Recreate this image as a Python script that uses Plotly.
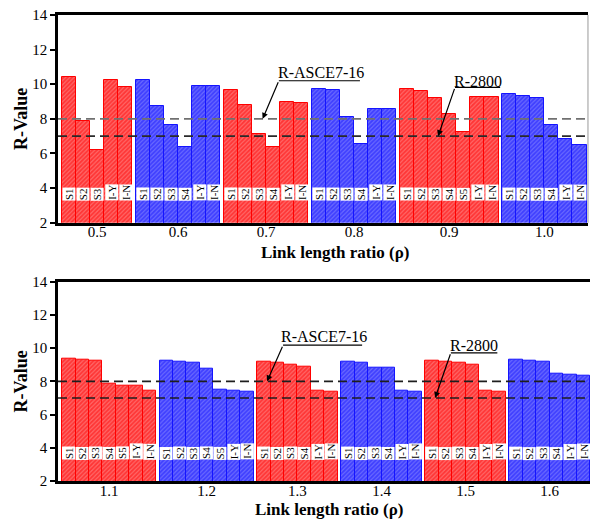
import plotly.graph_objects as go

# ---- data -------------------------------------------------------------
top_groups = ["0.5", "0.6", "0.7", "0.8", "0.9", "1.0"]
top_labels = [
    ["S1", "S2", "S3", "I-Y", "I-N"],
    ["S1", "S2", "S3", "S4", "I-Y", "I-N"],
    ["S1", "S2", "S3", "S4", "I-Y", "I-N"],
    ["S1", "S2", "S3", "S4", "I-Y", "I-N"],
    ["S1", "S2", "S3", "S4", "S5", "I-Y", "I-N"],
    ["S1", "S2", "S3", "S4", "I-Y", "I-N"],
]
top_values = [
    [10.40, 7.85, 6.18, 10.22, 9.82],
    [10.22, 8.72, 7.64, 6.37, 9.88, 9.88],
    [9.66, 8.78, 7.10, 6.37, 8.95, 8.89],
    [9.70, 9.65, 8.08, 6.54, 8.55, 8.55],
    [9.70, 9.63, 9.18, 8.26, 7.26, 9.24, 9.24],
    [9.43, 9.34, 9.22, 7.64, 6.83, 6.49],
]

bot_groups = ["1.1", "1.2", "1.3", "1.4", "1.5", "1.6"]
bot_labels = [
    ["S1", "S2", "S3", "S4", "S5", "I-Y", "I-N"],
    ["S1", "S2", "S3", "S4", "S5", "I-Y", "I-N"],
    ["S1", "S2", "S3", "S4", "I-Y", "I-N"],
    ["S1", "S2", "S3", "S4", "I-Y", "I-N"],
    ["S1", "S2", "S3", "S4", "I-Y", "I-N"],
    ["S1", "S2", "S3", "S4", "I-Y", "I-N"],
]
bot_values = [
    [9.38, 9.30, 9.22, 7.83, 7.75, 7.75, 7.45],
    [9.26, 9.20, 9.10, 8.77, 7.51, 7.41, 7.39],
    [9.20, 9.12, 9.02, 8.91, 7.43, 7.35],
    [9.20, 9.10, 8.85, 8.81, 7.43, 7.37],
    [9.22, 9.16, 9.10, 9.02, 7.45, 7.35],
    [9.32, 9.26, 9.16, 8.49, 8.43, 8.37],
]

x_title = "Link length ratio (ρ)"
y_title = "R-Value"
r_asce = 8.0   # R-ASCE7-16
r_2800 = 7.0   # R-2800
label_base = 3.25

# ---- styling ----------------------------------------------------------
SERIF = "Liberation Serif"
RED, RED_BG = "#ff0000", "#ff6a6a"
BLUE, BLUE_BG = "#1414ff", "#6a6aff"
GAP = 0.24

fig = go.Figure()
annotations = []
shapes = []


def add_panel(groups, labels, values, xa, ya):
    centers = []
    pos = 0.0
    for gi, (name, labs, vals) in enumerate(zip(groups, labels, values)):
        xs = [pos + i for i in range(len(vals))]
        centers.append((xs[0] + xs[-1]) / 2)
        col, bg = (RED, RED_BG) if gi % 2 == 0 else (BLUE, BLUE_BG)
        fig.add_trace(go.Bar(
            x=xs, y=vals, width=1.0, xaxis=xa, yaxis=ya,
            marker=dict(color=bg, line=dict(color=col, width=1),
                        pattern=dict(shape="/", fgcolor=col, bgcolor=bg,
                                     size=3, solidity=0.6)),
            base=0, showlegend=False, hoverinfo="skip",
        ))
        for x, lab in zip(xs, labs):
            annotations.append(dict(
                x=x, y=label_base, xref=xa, yref=ya, text=lab,
                textangle=-90, showarrow=False, yanchor="bottom",
                xanchor="center", bgcolor="white", borderpad=0,
                font=dict(family=SERIF, size=11, color="black"),
            ))
        pos = xs[-1] + 1 + GAP
    return centers, pos - GAP - 0.5


top_centers, top_end = add_panel(top_groups, top_labels, top_values, "x", "y")
bot_centers, bot_end = add_panel(bot_groups, bot_labels, bot_values, "x2", "y2")

# reference lines
for ya, xa, c8, c7 in [("y", "x", "#707070", "#2a2a2a"), ("y2", "x2", "#1e1e1e", "#1e1e1e")]:
    for val, c in [(r_asce, c8), (r_2800, c7)]:
        shapes.append(dict(type="line", xref=f"{xa} domain", yref=ya,
                           x0=0, x1=1, y0=val, y1=val, layer="above",
                           line=dict(color=c, width=1.6, dash="9px,5px")))

# thin right frame on the upper panel
shapes.append(dict(type="line", xref="x domain", yref="y domain", x0=1, x1=1,
                   y0=0, y1=1, line=dict(color="#9a9a9a", width=1)))


def callout(text, xa, ya, tx, ty, ux0, ux1, uy, px, py):
    annotations.append(dict(x=tx, y=ty, xref=xa, yref=ya, text=text,
                            showarrow=False,
                            font=dict(family=SERIF, size=16, color="black")))
    shapes.append(dict(type="line", xref=xa, yref=ya, x0=ux0, x1=ux1,
                       y0=uy, y1=uy, line=dict(color="black", width=1.2)))
    annotations.append(dict(x=px, y=py, ax=ux0, ay=uy, xref=xa, yref=ya,
                            axref=xa, ayref=ya, text="", showarrow=True,
                            arrowhead=2, arrowsize=1, arrowwidth=1.2,
                            arrowcolor="black"))


callout("R-ASCE7-16", "x", "y", 17.86, 10.67, 14.88, 20.63, 10.2, 13.73, r_asce)
callout("R-2800", "x", "y", 29.01, 10.15, 27.37, 30.57, 9.82, 26.17, r_2800)
callout("R-ASCE7-16", "x2", "y2", 18.92, 10.69, 15.91, 21.78, 10.18, 14.72, r_asce)
callout("R-2800", "x2", "y2", 30.07, 10.18, 28.37, 31.82, 9.72, 27.2, r_2800)

tick_font = dict(family=SERIF, size=15, color="black")
title_font = dict(family=SERIF, size=17, color="black")

# x-axis titles placed below each panel
for xp, yp in [(0.52, 0.4914), (0.51, -0.0622)]:
    annotations.append(dict(x=xp, y=yp, xref="paper", yref="paper",
                            text=f"<b>{x_title}</b>", showarrow=False,
                            xanchor="center", yanchor="middle",
                            font=title_font))

xcommon = dict(showline=True, linecolor="black", linewidth=2.5, mirror=True,
               ticks="", showgrid=False, zeroline=False, tickfont=tick_font,
               ticklabelstandoff=-6)
ycommon = dict(range=[2, 14], dtick=2, showline=True, linecolor="black",
               linewidth=2.5, ticks="outside", ticklen=5, tickwidth=2,
               tickcolor="black", showgrid=False, zeroline=False,
               tickfont=tick_font,
               title=dict(text=f"<b>{y_title}</b>",
                          font=dict(family=SERIF, size=18, color="black"),
                          standoff=0))

fig.update_layout(
    width=590, height=520,
    margin=dict(l=58, r=0, t=15, b=39),
    plot_bgcolor="white", paper_bgcolor="white",
    bargap=0, barmode="overlay",
    xaxis=dict(xcommon, domain=[0, 0.9962], range=[-0.78, top_end + 0.1],
               tickvals=top_centers, ticktext=top_groups, anchor="y"),
    yaxis=dict(ycommon, domain=[0.5543, 1.0], anchor="x"),
    xaxis2=dict(xcommon, domain=[0, 1.0], range=[-0.8, bot_end],
                tickvals=bot_centers, ticktext=bot_groups, anchor="y2"),
    yaxis2=dict(ycommon, domain=[0.0, 0.4277], anchor="x2"),
    annotations=annotations,
    shapes=shapes,
)

fig.write_html("out.html")
